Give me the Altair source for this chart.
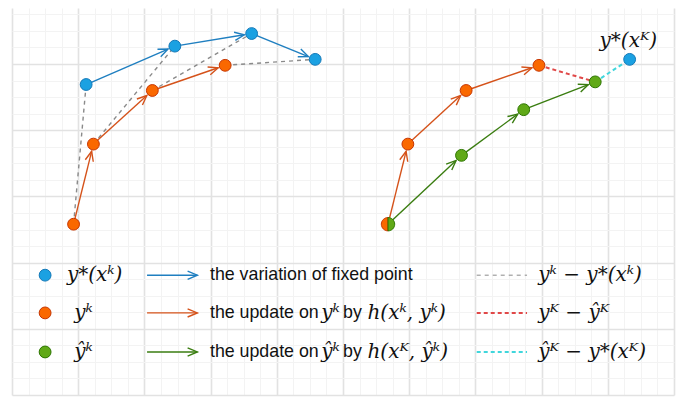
import numpy as np
import pandas as pd
import altair as alt

# ---------------- data (grid units, y upward) ----------------
# left diagram
fixed_x = [1.12, 2.46, 3.62, 4.58]        # y*(x^k)
fixed_y = [4.69, 5.27, 5.46, 5.07]
yk_x = [0.93, 1.23, 2.12, 3.22]           # y^k
yk_y = [2.58, 3.79, 4.60, 4.98]
# right diagram
ryk_x = [5.68, 5.98, 6.86, 7.96]          # y^k
ryk_y = [2.58, 3.79, 4.60, 4.98]
hat_x = [5.68, 6.79, 7.73, 8.81]          # y-hat^k
hat_y = [2.58, 3.62, 4.31, 4.73]
fixK_x = [9.33]                           # y*(x^K)
fixK_y = [5.07]
fixK_label = "y*(xᴷ)"

# legend
leg_row_y = [1.81, 1.24, 0.65]
leg_dot_labels = ["y*(xᵏ)", "yᵏ", "ŷᵏ"]
leg_arrow_text = ["the variation of fixed point", "the update on", "the update on"]
leg_mid_math = ["", "yᵏ", "ŷᵏ"]
leg_by_text = ["", "by", "by"]
leg_end_math = ["", "h(xᵏ, yᵏ)", "h(xᴷ, ŷᵏ)"]
leg_dash_labels = ["yᵏ − y*(xᵏ)", "yᴷ − ŷᴷ", "ŷᴷ − y*(xᴷ)"]

BLUE, BLUE_S, BLUE_A = "#1ba1e2", "#1479b8", "#1f7fc0"
ORG, ORG_S, ORG_A = "#fa6800", "#c73500", "#d5521a"
GRN, GRN_S, GRN_A = "#60a917", "#2d7600", "#3a7d10"
GRAY_D, RED_D, CYAN_D = "#8a8a8a", "#e04848", "#40d6dc"

R = 0.112  # circle radius in grid units (to stop arrows at the rim)

# ---------------- scales / axes ----------------
xs = alt.Scale(domain=[0, 10], nice=False, zero=False)
ys = alt.Scale(domain=[0, 387 / 66.2], nice=False, zero=False)
grid_color = {"condition": {"test": "datum.value % 1 === 0", "value": "#e2e2e2"}, "value": "#f3f3f3"}
grid_width = {"condition": {"test": "datum.value % 1 === 0", "value": 1.6}, "value": 1}
xaxis = alt.Axis(values=[float(v) for v in np.arange(0, 10.001, 0.25)], grid=True, labels=False,
                 ticks=False, domain=False, title=None, gridColor=grid_color, gridWidth=grid_width)
yaxis = alt.Axis(values=[float(v) for v in np.arange(0, 6.001, 0.25)], grid=True, labels=False,
                 ticks=False, domain=False, title=None, gridColor=grid_color, gridWidth=grid_width)


def X(f):
    return alt.X(f, type="quantitative", scale=xs, axis=xaxis)


def Y(f):
    return alt.Y(f, type="quantitative", scale=ys, axis=yaxis)


# ---------------- build tables ----------------
def arrows(xs_, ys_, color):
    rows = []
    for i in range(len(xs_) - 1):
        x0, y0, x1, y1 = xs_[i], ys_[i], xs_[i + 1], ys_[i + 1]
        dx, dy = x1 - x0, y1 - y0
        L = np.hypot(dx, dy)
        ex, ey = x1 - dx / L * R, y1 - dy / L * R
        ang = float((-np.degrees(np.arctan2(dy, dx))) % 360)
        rows.append(dict(x=x0, y=y0, x2=float(ex), y2=float(ey), ang=ang, c=color))
    return rows


arr = (arrows(fixed_x, fixed_y, BLUE_A) + arrows(yk_x, yk_y, ORG_A)
       + arrows(ryk_x, ryk_y, ORG_A) + arrows(hat_x, hat_y, GRN_A))
# legend arrows
for yy, c in zip(leg_row_y, [BLUE_A, ORG_A, GRN_A]):
    arr.append(dict(x=2.04, y=yy, x2=2.80, y2=yy, ang=0.0, c=c))
arr_df = pd.DataFrame(arr)

dash = []
for i in range(4):
    dash.append(dict(x=yk_x[i], y=yk_y[i], x2=fixed_x[i], y2=fixed_y[i], c=GRAY_D, w=1.4, k="g"))
dash.append(dict(x=ryk_x[3], y=ryk_y[3], x2=hat_x[3], y2=hat_y[3], c=RED_D, w=2, k="r"))
dash.append(dict(x=hat_x[3], y=hat_y[3], x2=fixK_x[0], y2=fixK_y[0], c=CYAN_D, w=2, k="c"))
for yy, c, w, k in zip(leg_row_y, [GRAY_D, RED_D, CYAN_D], [1, 2, 2], ["g", "r", "c"]):
    dash.append(dict(x=7.02, y=yy, x2=7.78, y2=yy, c=c, w=w, k=k))
dash_df = pd.DataFrame(dash)

pts = []
for x, y in zip(fixed_x, fixed_y):
    pts.append(dict(x=x, y=y, f=BLUE, s=BLUE_S))
for x, y in zip(yk_x, yk_y):
    pts.append(dict(x=x, y=y, f=ORG, s=ORG_S))
for x, y in zip(ryk_x[1:], ryk_y[1:]):
    pts.append(dict(x=x, y=y, f=ORG, s=ORG_S))
for x, y in zip(hat_x[1:], hat_y[1:]):
    pts.append(dict(x=x, y=y, f=GRN, s=GRN_S))
pts.append(dict(x=fixK_x[0], y=fixK_y[0], f=BLUE, s=BLUE_S))
for yy, f, s in zip(leg_row_y, [BLUE, ORG, GRN], [BLUE_S, ORG_S, GRN_S]):
    pts.append(dict(x=0.50, y=yy, f=f, s=s))
pts_df = pd.DataFrame(pts)

half_rows = [
    dict(x=ryk_x[0], y=ryk_y[0], f=ORG, s=ORG_S, shp="M0,-1A1,1 0 0,0 0,1Z"),
    dict(x=hat_x[0], y=hat_y[0], f=GRN, s=GRN_S, shp="M0,-1A1,1 0 0,1 0,1Z"),
]

sans = []
math = []
for i, yy in enumerate(leg_row_y):
    sans.append(dict(x=2.99, y=yy, t=leg_arrow_text[i]))
    if leg_by_text[i]:
        sans.append(dict(x=5.00, y=yy, t=leg_by_text[i]))
        math.append(dict(x=4.67, y=yy, t=leg_mid_math[i]))
        math.append(dict(x=5.37, y=yy, t=leg_end_math[i]))
    math.append(dict(x=0.83 if i == 0 else 0.94, y=yy, t=leg_dot_labels[i]))
    math.append(dict(x=7.95, y=yy, t=leg_dash_labels[i]))
sans_df = pd.DataFrame(sans)
math_df = pd.DataFrame(math)
lab_df = pd.DataFrame([dict(x=fixK_x[0] - 0.02, y=fixK_y[0] + 0.19, t=fixK_label)])

MATH_FONT = "DejaVu Serif"
MATH_SIZE = 20

# ---------------- layers ----------------
dash_layers = []
for k, dsh in [("g", [4, 4]), ("r", [4, 3]), ("c", [4, 3])]:
    dash_layers.append(
        alt.Chart(dash_df[dash_df.k == k]).mark_rule(strokeDash=dsh).encode(
            x=X("x"), y=Y("y"), x2="x2", y2="y2",
            color=alt.Color("c:N", scale=None),
            strokeWidth=alt.StrokeWidth("w:Q", scale=None),
        )
    )

lines = alt.Chart(arr_df).mark_rule(strokeWidth=1.4).encode(
    x=X("x"), y=Y("y"), x2="x2", y2="y2", color=alt.Color("c:N", scale=None))

heads = alt.Chart(arr_df).mark_point(
    shape="M-1,-0.42L0,0L-1,0.42", filled=False, size=380, strokeWidth=1.4, opacity=1
).encode(x=X("x2"), y=Y("y2"), angle=alt.Angle("ang:Q", scale=None),
         color=alt.Color("c:N", scale=None))

dots = alt.Chart(pts_df).mark_point(shape="circle", filled=True, size=140, strokeWidth=1,
                                    opacity=1).encode(
    x=X("x"), y=Y("y"), fill=alt.Fill("f:N", scale=None), stroke=alt.Stroke("s:N", scale=None))

halves = [
    alt.Chart(pd.DataFrame([h])).mark_point(shape=h["shp"], filled=True,
                                            size=float(4 * 140 / np.pi), strokeWidth=1,
                                            opacity=1).encode(
        x=X("x"), y=Y("y"), fill=alt.Fill("f:N", scale=None), stroke=alt.Stroke("s:N", scale=None))
    for h in half_rows
]

sans_t = alt.Chart(sans_df).mark_text(align="left", baseline="middle", font="Liberation Sans",
                                      fontSize=17.8, color="#111").encode(
    x=X("x"), y=Y("y"), text="t:N")
math_t = alt.Chart(math_df).mark_text(align="left", baseline="middle", font=MATH_FONT,
                                      fontStyle="italic", fontSize=MATH_SIZE, color="#111").encode(
    x=X("x"), y=Y("y"), text="t:N")
lab_t = alt.Chart(lab_df).mark_text(align="center", baseline="alphabetic", font=MATH_FONT,
                                    fontStyle="italic", fontSize=MATH_SIZE, color="#111").encode(
    x=X("x"), y=Y("y"), text="t:N")

chart = alt.layer(*dash_layers, lines, heads, dots, *halves, sans_t, math_t, lab_t).properties(
    width=662, height=387,
    autosize=alt.AutoSizeParams(type="none"),
    padding={"left": 4, "top": 0, "right": 4, "bottom": 2},
).configure_view(stroke=None)

chart.save("out.html", embed_options={"renderer": "svg", "actions": False})
